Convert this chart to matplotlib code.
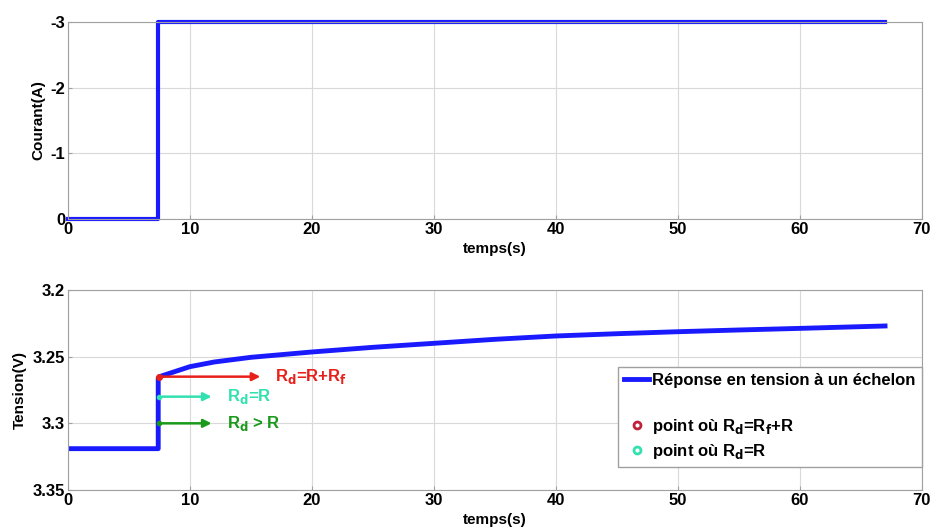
import matplotlib
matplotlib.use("Agg")
import matplotlib.pyplot as plt
from matplotlib.lines import Line2D

plt.rcParams['font.family'] = ['Liberation Sans', 'DejaVu Sans']
plt.rcParams['font.weight'] = 'bold'

# Data
t_current = [0, 7.4, 7.4, 67]
current = [0, 0, -3, -3]

t_voltage = [0, 7.4, 7.4, 7.5, 8, 9, 10, 12, 15, 20, 25, 30, 35, 40, 45, 50, 55, 60, 67]
voltage = [3.319, 3.319, 3.266, 3.265, 3.2635, 3.2605, 3.2575, 3.254, 3.2505, 3.2465,
           3.243, 3.240, 3.237, 3.2345, 3.2328, 3.2313, 3.230, 3.2288, 3.227]

pt_red = (7.5, 3.265)
pt_cyan = (7.5, 3.28)
pt_green = (7.5, 3.30)
arrow_end_red = 16
arrow_end_cyan = 12
arrow_end_green = 12

blue = '#1a1aff'
grid_c = '#d9d9d9'

fig = plt.figure(figsize=(9.35, 5.31), dpi=100)
ax1 = fig.add_axes([0.0727, 0.5876, 0.913, 0.371])
ax2 = fig.add_axes([0.0727, 0.0772, 0.913, 0.3767])

for ax in (ax1, ax2):
    ax.set_xlim(0, 70)
    ax.set_xticks(range(0, 71, 10))
    ax.grid(True, color=grid_c, lw=0.8)
    for s in ax.spines.values():
        s.set_color('#a0a0a0')
    ax.tick_params(labelsize=12, length=3, color='#a0a0a0', direction='in', pad=2)
    for lab in ax.get_xticklabels() + ax.get_yticklabels():
        lab.set_fontweight('bold')
    ax.set_xlabel('temps(s)', fontsize=11, fontweight='bold', labelpad=4)

ax1.plot(t_current, current, color=blue, lw=3, clip_on=False)
ax1.set_ylim(0, -3)
ax1.set_yticks([0, -1, -2, -3])
ax1.set_yticklabels(['0', '-1', '-2', '-3'], fontweight='bold')
ax1.set_ylabel('Courant(A)', fontsize=11, fontweight='bold', labelpad=4)

line, = ax2.plot(t_voltage, voltage, color=blue, lw=3.5)
ax2.set_ylim(3.35, 3.2)
ax2.set_yticks([3.2, 3.25, 3.3, 3.35])
ax2.set_yticklabels(['3.2', '3.25', '3.3', '3.35'], fontweight='bold')
ax2.set_ylabel('Tension(V)', fontsize=11, fontweight='bold', labelpad=4)

red = '#e8201a'
cyan = '#33e0b0'
green = '#1a9a1a'
ax2.annotate('', xy=(arrow_end_red, pt_red[1]), xytext=pt_red,
             arrowprops=dict(arrowstyle='-|>', color=red, lw=1.8, mutation_scale=12))
ax2.annotate('', xy=(arrow_end_cyan, pt_cyan[1]), xytext=pt_cyan,
             arrowprops=dict(arrowstyle='-|>', color=cyan, lw=1.8, mutation_scale=12))
ax2.annotate('', xy=(arrow_end_green, pt_green[1]), xytext=pt_green,
             arrowprops=dict(arrowstyle='-|>', color=green, lw=1.8, mutation_scale=12))
ax2.plot(*pt_red, 'o', color=red, ms=4)
ax2.plot(*pt_cyan, 'o', color=cyan, ms=3)
ax2.plot(*pt_green, 'o', color=green, ms=3)
ax2.text(arrow_end_red + 1, pt_red[1], r'R$_\mathbf{d}$=R+R$_\mathbf{f}$', color=red,
         fontsize=12, fontweight='bold', va='center')
ax2.text(arrow_end_cyan + 1, pt_cyan[1], r'R$_\mathbf{d}$=R', color=cyan,
         fontsize=12, fontweight='bold', va='center')
ax2.text(arrow_end_green + 1, pt_green[1], r'R$_\mathbf{d}$ > R', color=green,
         fontsize=12, fontweight='bold', va='center')

h_blank = Line2D([], [], color='none')
h_red = Line2D([], [], color='#c0203a', marker='o', ls='none', ms=5, mfc='none', mew=2)
h_cyan = Line2D([], [], color=cyan, marker='o', ls='none', ms=5, mfc='none', mew=2)
leg = ax2.legend([line, h_blank, h_red, h_cyan],
                 ['Réponse en tension à un échelon', '',
                  r'point où R$_\mathbf{d}$=R$_\mathbf{f}$+R', r'point où R$_\mathbf{d}$=R'],
                 loc='lower right', bbox_to_anchor=(1.0, 0.115), borderaxespad=0,
                 prop={'weight': 'bold', 'size': 12}, fancybox=False, framealpha=1,
                 edgecolor='#a0a0a0', handlelength=1.5, handletextpad=0.2,
                 borderpad=0.35, labelspacing=0.4)

fig.savefig('out.png', dpi=100)
